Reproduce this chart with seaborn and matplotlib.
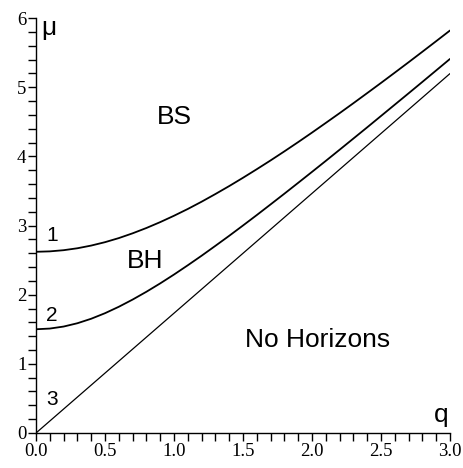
import numpy as np
import pandas as pd
import matplotlib.pyplot as plt
import seaborn as sns
from matplotlib import font_manager
from matplotlib.ticker import MultipleLocator

# q grid (0.1 steps)
q_values = [0.0, 0.1, 0.2, 0.3, 0.4, 0.5, 0.6, 0.7, 0.8, 0.9, 1.0,
            1.1, 1.2, 1.3, 1.4, 1.5, 1.6, 1.7, 1.8, 1.9, 2.0,
            2.1, 2.2, 2.3, 2.4, 2.5, 2.6, 2.7, 2.8, 2.9, 3.0]

# curve 1 (BS / BH boundary)
mu_curve1 = [2.620, 2.626, 2.643, 2.671, 2.710, 2.759, 2.818, 2.887, 2.964, 3.049, 3.141,
             3.239, 3.344, 3.455, 3.570, 3.690, 3.814, 3.941, 4.072, 4.206, 4.343,
             4.483, 4.624, 4.768, 4.914, 5.061, 5.210, 5.360, 5.512, 5.665, 5.819]

# curve 2 (BH / no horizons boundary)
mu_curve2 = [1.500, 1.510, 1.539, 1.587, 1.652, 1.732, 1.825, 1.929, 2.042, 2.163, 2.291,
             2.425, 2.563, 2.706, 2.851, 3.000, 3.151, 3.305, 3.460, 3.617, 3.775,
             3.934, 4.095, 4.257, 4.419, 4.583, 4.747, 4.911, 5.076, 5.242, 5.408]

# curve 3 (straight line)
q_line = [0.0, 3.0]
mu_curve3 = [0.0, 5.196]

x_ticks = [0.0, 0.5, 1.0, 1.5, 2.0, 2.5, 3.0]
x_tick_labels = ["0.0", "0.5", "1.0", "1.5", "2.0", "2.5", "3.0"]
y_ticks = [0, 1, 2, 3, 4, 5, 6]
y_tick_labels = ["0", "1", "2", "3", "4", "5", "6"]

curve_labels = ["1", "2", "3"]
region_labels = ["BS", "BH", "No Horizons"]


def pick_font(candidates):
    """Return a FontProperties for the first installed family in candidates."""
    for name in candidates:
        try:
            path = font_manager.findfont(name, fallback_to_default=False)
            return font_manager.FontProperties(fname=path)
        except ValueError:
            continue
    return font_manager.FontProperties(family="serif")


def plot_chart(output_path: str):
    sns.set_style("ticks")
    plt.rcParams["text.color"] = "black"
    plt.rcParams["xtick.color"] = "black"
    plt.rcParams["ytick.color"] = "black"

    fig = plt.figure(figsize=(4.63, 4.68), dpi=100)
    ax = fig.add_axes([0.0778, 0.0748, 0.894, 0.8867])

    df1 = pd.DataFrame({"q": q_values, "mu": mu_curve1})
    df2 = pd.DataFrame({"q": q_values, "mu": mu_curve2})
    df3 = pd.DataFrame({"q": q_line, "mu": mu_curve3})

    sns.lineplot(data=df1, x="q", y="mu", ax=ax, color="black", linewidth=1.3)
    sns.lineplot(data=df2, x="q", y="mu", ax=ax, color="black", linewidth=1.3)
    sns.lineplot(data=df3, x="q", y="mu", ax=ax, color="black", linewidth=0.9)

    ax.set_xlim(0, 3.0)
    ax.set_ylim(0, 6.0)
    ax.set_xlabel("")
    ax.set_ylabel("")

    serif_fp = pick_font(["Liberation Serif", "DejaVu Serif"])
    serif_fp.set_size(13.5)
    ax.set_xticks(x_ticks, labels=x_tick_labels)
    ax.set_yticks(y_ticks, labels=y_tick_labels)
    for lab in ax.get_xticklabels() + ax.get_yticklabels():
        lab.set_fontproperties(serif_fp)
    ax.xaxis.set_minor_locator(MultipleLocator(0.1))
    ax.yaxis.set_minor_locator(MultipleLocator(0.2))

    ax.tick_params(which="both", direction="out", length=6, width=1.0,
                   color="black", labelcolor="black")
    ax.tick_params(which="major", pad=1)

    sns.despine(ax=ax)
    for side in ["left", "bottom"]:
        ax.spines[side].set_linewidth(1.0)
        ax.spines[side].set_color("black")

    sans = ["Liberation Sans", "DejaVu Sans"]
    ax.text(0.116, 2.86, curve_labels[0], fontsize=15, family=sans, ha="center", va="center")
    ax.text(0.116, 1.70, curve_labels[1], fontsize=15, family=sans, ha="center", va="center")
    ax.text(0.116, 0.48, curve_labels[2], fontsize=15, family=sans, ha="center", va="center")

    ax.text(1.0, 4.57, region_labels[0], fontsize=19, family=sans, ha="center", va="center")
    ax.text(0.79, 2.49, region_labels[1], fontsize=19, family=sans, ha="center", va="center")
    ax.text(2.04, 1.34, region_labels[2], fontsize=19, family=sans, ha="center", va="center")

    ax.text(0.09, 5.85, "μ", fontsize=19, family=sans, ha="center", va="center")
    ax.text(2.94, 0.26, "q", fontsize=19, family=sans, ha="center", va="center")

    fig.savefig(output_path, dpi=100)
    plt.close(fig)


def main():
    plot_chart("out.png")


if __name__ == "__main__":
    main()
